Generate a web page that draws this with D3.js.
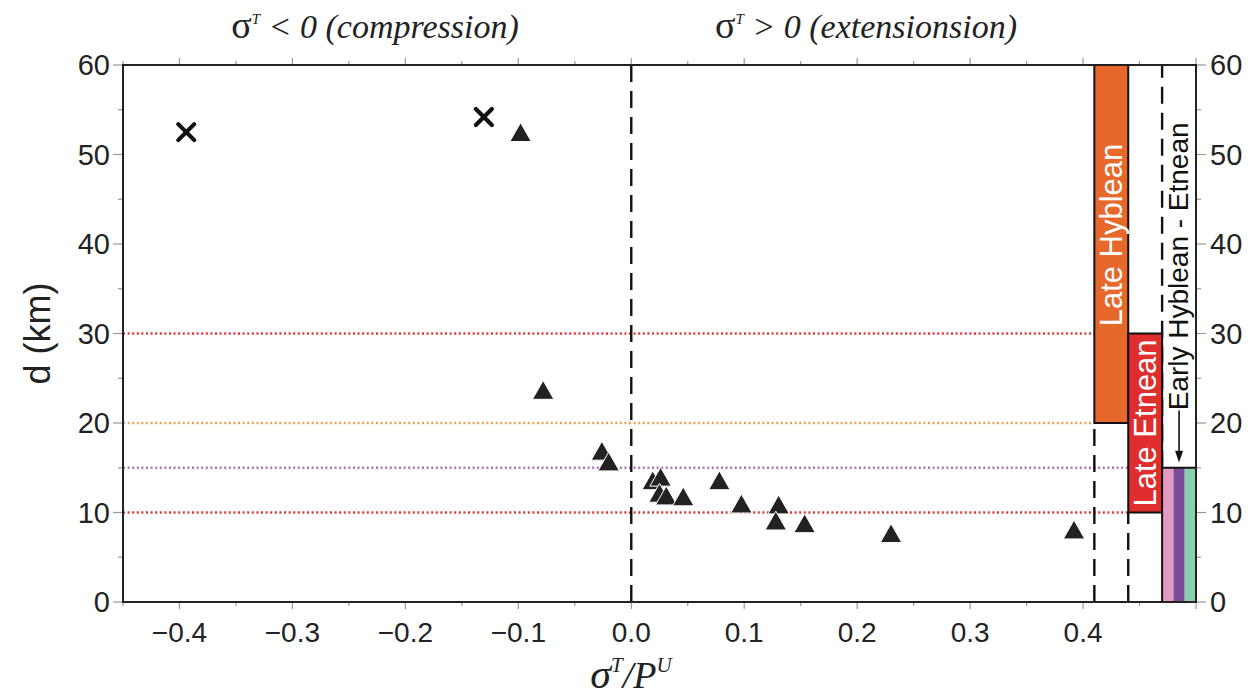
<!DOCTYPE html>
<html><head><meta charset="utf-8">
<script src="https://cdn.jsdelivr.net/npm/d3@7"></script>
<style>body{margin:0;background:#fff}svg{display:block}</style>
</head><body>
<svg id="c" width="1258" height="697"></svg>
<script>
// ---- data ----
const crossX = [-0.394, -0.1305];
const crossD = [52.5, 54.2];
const triX = [-0.098, -0.078, -0.026, -0.020, 0.019, 0.026, 0.025, 0.031, 0.046, 0.078, 0.0975, 0.1305, 0.128, 0.1535, 0.230, 0.392];
const triD = [52.5, 23.7, 16.9, 15.7, 13.6, 14.0, 12.2, 11.9, 11.8, 13.6, 11.0, 10.9, 9.1, 8.8, 7.7, 8.1];
const xTicks = [-0.4, -0.3, -0.2, -0.1, 0.0, 0.1, 0.2, 0.3, 0.4];
const yTicks = [0, 10, 20, 30, 40, 50, 60];
const refDepths = [30, 20, 15, 10];
const refColors = ["#e03a33", "#f0a050", "#a878b8", "#e03a33"];
const refEnds = [0.41, 0.41, 0.44, 0.44];
const barNames = ["Late Hyblean", "Late Etnean"];
const barX0 = [0.41, 0.44];
const barX1 = [0.44, 0.47];
const barTop = [60, 30];
const barBottom = [20, 10];
const barColors = ["#e6692b", "#e02d2e"];
const stripeX0 = [0.47, 0.48, 0.49];
const stripeX1 = [0.48, 0.49, 0.50];
const stripeColors = ["#e39bc3", "#7c4c99", "#88d0ae"];
const stripeTop = 15;
const dashX = [0.0, 0.41, 0.44, 0.47];
const dashD0 = [0, 0, 0, 15];
const dashD1 = [60, 20, 10, 60];

// ---- layout ----
const svg = d3.select("#c");
const L = 123, R = 1196, T = 65, B = 602;
const x = d3.scaleLinear().domain([-0.45, 0.5]).range([L, R]);
const y = d3.scaleLinear().domain([0, 60]).range([B, T]);
const sans = "'Liberation Sans', Arial, sans-serif";
const serif = "'Liberation Serif', 'Times New Roman', serif";

// reference dotted lines
svg.append("g").selectAll("line").data(refDepths).join("line")
  .attr("x1", L).attr("x2", (d, i) => x(refEnds[i]))
  .attr("y1", d => y(d)).attr("y2", d => y(d))
  .attr("stroke", (d, i) => refColors[i]).attr("stroke-width", 2.4)
  .attr("stroke-dasharray", "2,2.6");

// dashed verticals
svg.append("g").selectAll("line").data(dashX).join("line")
  .attr("x1", d => x(d)).attr("x2", d => x(d))
  .attr("y1", (d, i) => y(dashD0[i])).attr("y2", (d, i) => y(dashD1[i]))
  .attr("stroke", "#111").attr("stroke-width", 2.4)
  .attr("stroke-dasharray", "17,9");

// bars
svg.append("g").selectAll("rect").data(barNames).join("rect")
  .attr("x", (d, i) => x(barX0[i])).attr("width", (d, i) => x(barX1[i]) - x(barX0[i]))
  .attr("y", (d, i) => y(barTop[i])).attr("height", (d, i) => y(barBottom[i]) - y(barTop[i]))
  .attr("fill", (d, i) => barColors[i]).attr("stroke", "#111").attr("stroke-width", 2);
svg.append("g").selectAll("text").data(barNames).join("text")
  .attr("transform", (d, i) => `translate(${(x(barX0[i]) + x(barX1[i])) / 2 + 11},${(y(barTop[i]) + y(barBottom[i])) / 2 - (i === 0 ? 9 : 0)}) rotate(-90)`)
  .attr("text-anchor", "middle").attr("font-family", sans).attr("font-size", 31)
  .attr("fill", "#fff").text(d => d);

// stripes
svg.append("g").selectAll("rect").data(stripeColors).join("rect")
  .attr("x", (d, i) => x(stripeX0[i])).attr("width", (d, i) => x(stripeX1[i]) - x(stripeX0[i]))
  .attr("y", y(stripeTop)).attr("height", y(0) - y(stripeTop))
  .attr("fill", d => d);
svg.append("rect").attr("x", x(stripeX0[0])).attr("width", x(stripeX1[2]) - x(stripeX0[0]))
  .attr("y", y(stripeTop)).attr("height", y(0) - y(stripeTop))
  .attr("fill", "none").attr("stroke", "#111").attr("stroke-width", 2);

// Early Hyblean - Etnean label with arrow
const ex = (x(stripeX0[0]) + x(stripeX1[2])) / 2;
svg.append("text")
  .attr("transform", `translate(${ex + 9},${y(37.5)}) rotate(-90)`)
  .attr("text-anchor", "middle").attr("font-family", sans).attr("font-size", 28)
  .attr("fill", "#111").text("Early Hyblean - Etnean");
svg.append("line").attr("x1", ex).attr("x2", ex).attr("y1", y(21.4)).attr("y2", y(16.3))
  .attr("stroke", "#111").attr("stroke-width", 1.6);
svg.append("path").attr("d", `M${ex - 4},${y(16.9)} L${ex + 4},${y(16.9)} L${ex},${y(15.6)} Z`).attr("fill", "#111");

// tick lines
const ticksG = svg.append("g").attr("stroke", "#999").attr("stroke-width", 1.2);
const minorY = d3.range(0, 61, 5);
ticksG.selectAll(".yl").data(minorY).join("line")
  .attr("x1", d => L - (d % 10 === 0 ? 10 : 5)).attr("x2", L)
  .attr("y1", d => y(d)).attr("y2", d => y(d));
ticksG.selectAll(".yr").data(minorY).join("line")
  .attr("x1", R).attr("x2", d => R + (d % 10 === 0 ? 10 : 5))
  .attr("y1", d => y(d)).attr("y2", d => y(d));
const minorX = d3.range(-0.45, 0.501, 0.05).map(v => Math.round(v * 100) / 100);
ticksG.selectAll(".xb").data(minorX).join("line")
  .attr("x1", d => x(d)).attr("x2", d => x(d))
  .attr("y1", B).attr("y2", d => B + (Math.abs(Math.round(d * 100)) % 10 === 0 ? 7 : 4));
ticksG.selectAll(".xt").data(minorX).join("line")
  .attr("x1", d => x(d)).attr("x2", d => x(d))
  .attr("y1", T).attr("y2", d => T - (Math.abs(Math.round(d * 100)) % 10 === 0 ? 7 : 4));

// tick labels
svg.append("g").selectAll("text").data(yTicks).join("text")
  .attr("x", 110).attr("y", d => y(d) + 10).attr("text-anchor", "end")
  .attr("font-family", sans).attr("font-size", 29).attr("fill", "#222").text(d => d);
svg.append("g").selectAll("text").data(yTicks).join("text")
  .attr("x", 1210).attr("y", d => y(d) + 10).attr("text-anchor", "start")
  .attr("font-family", sans).attr("font-size", 29).attr("fill", "#222").text(d => d);
const fmt = d3.format(".1f");
svg.append("g").selectAll("text").data(xTicks).join("text")
  .attr("x", d => x(d)).attr("y", 642).attr("text-anchor", "middle")
  .attr("font-family", sans).attr("font-size", 28).attr("fill", "#222").text(d => fmt(d));

// frame
svg.append("rect").attr("x", L).attr("y", T).attr("width", R - L).attr("height", B - T)
  .attr("fill", "none").attr("stroke", "#222").attr("stroke-width", 2);

// markers
const triType = { draw(ctx, size) { const w = Math.sqrt(size); const h = w * 0.88; ctx.moveTo(0, -h / 2); ctx.lineTo(w / 2, h / 2); ctx.lineTo(-w / 2, h / 2); ctx.closePath(); } };
svg.append("g").selectAll("path").data(triX).join("path")
  .attr("transform", (d, i) => `translate(${x(d)},${y(triD[i])})`)
  .attr("d", d3.symbol().type(triType).size(460))
  .attr("fill", "#222").attr("stroke", "#fff").attr("stroke-width", 1);
const crossType = { draw(ctx, size) { const r = Math.sqrt(size) / 2; ctx.moveTo(-r, -r); ctx.lineTo(r, r); ctx.moveTo(r, -r); ctx.lineTo(-r, r); } };
svg.append("g").selectAll("path").data(crossX).join("path")
  .attr("transform", (d, i) => `translate(${x(d)},${y(crossD[i])})`)
  .attr("d", d3.symbol().type(crossType).size(256))
  .attr("fill", "none").attr("stroke", "#111").attr("stroke-width", 4.2).attr("stroke-linecap", "round");

// titles
function sigmaTitle(cx, rest) {
  const t = svg.append("text").attr("x", cx).attr("y", 38).attr("text-anchor", "middle")
    .attr("font-family", serif).attr("font-size", 34).attr("fill", "#222");
  t.append("tspan").attr("font-size", 38).text("σ");
  t.append("tspan").attr("font-size", 15).attr("font-style", "italic").attr("dy", -14).text("T");
  t.append("tspan").attr("dy", 14).attr("font-style", "italic").text(rest);
}
sigmaTitle(375, " < 0 (compression)");
sigmaTitle(866, " > 0 (extensionsion)");

// y label
svg.append("text").attr("transform", `translate(50,${y(30)}) rotate(-90)`)
  .attr("text-anchor", "middle").attr("font-family", sans).attr("font-size", 36)
  .attr("fill", "#222").text("d (km)");

// x label
const xl = svg.append("text").attr("x", 631).attr("y", 688).attr("text-anchor", "middle")
  .attr("font-family", serif).attr("font-size", 38).attr("font-style", "italic").attr("fill", "#222");
xl.append("tspan").attr("font-size", 42).text("σ");
xl.append("tspan").attr("font-size", 21).attr("dy", -16).text("T");
xl.append("tspan").attr("dy", 16).text("/P");
xl.append("tspan").attr("font-size", 21).attr("dy", -16).text("U");
</script>
</body></html>
